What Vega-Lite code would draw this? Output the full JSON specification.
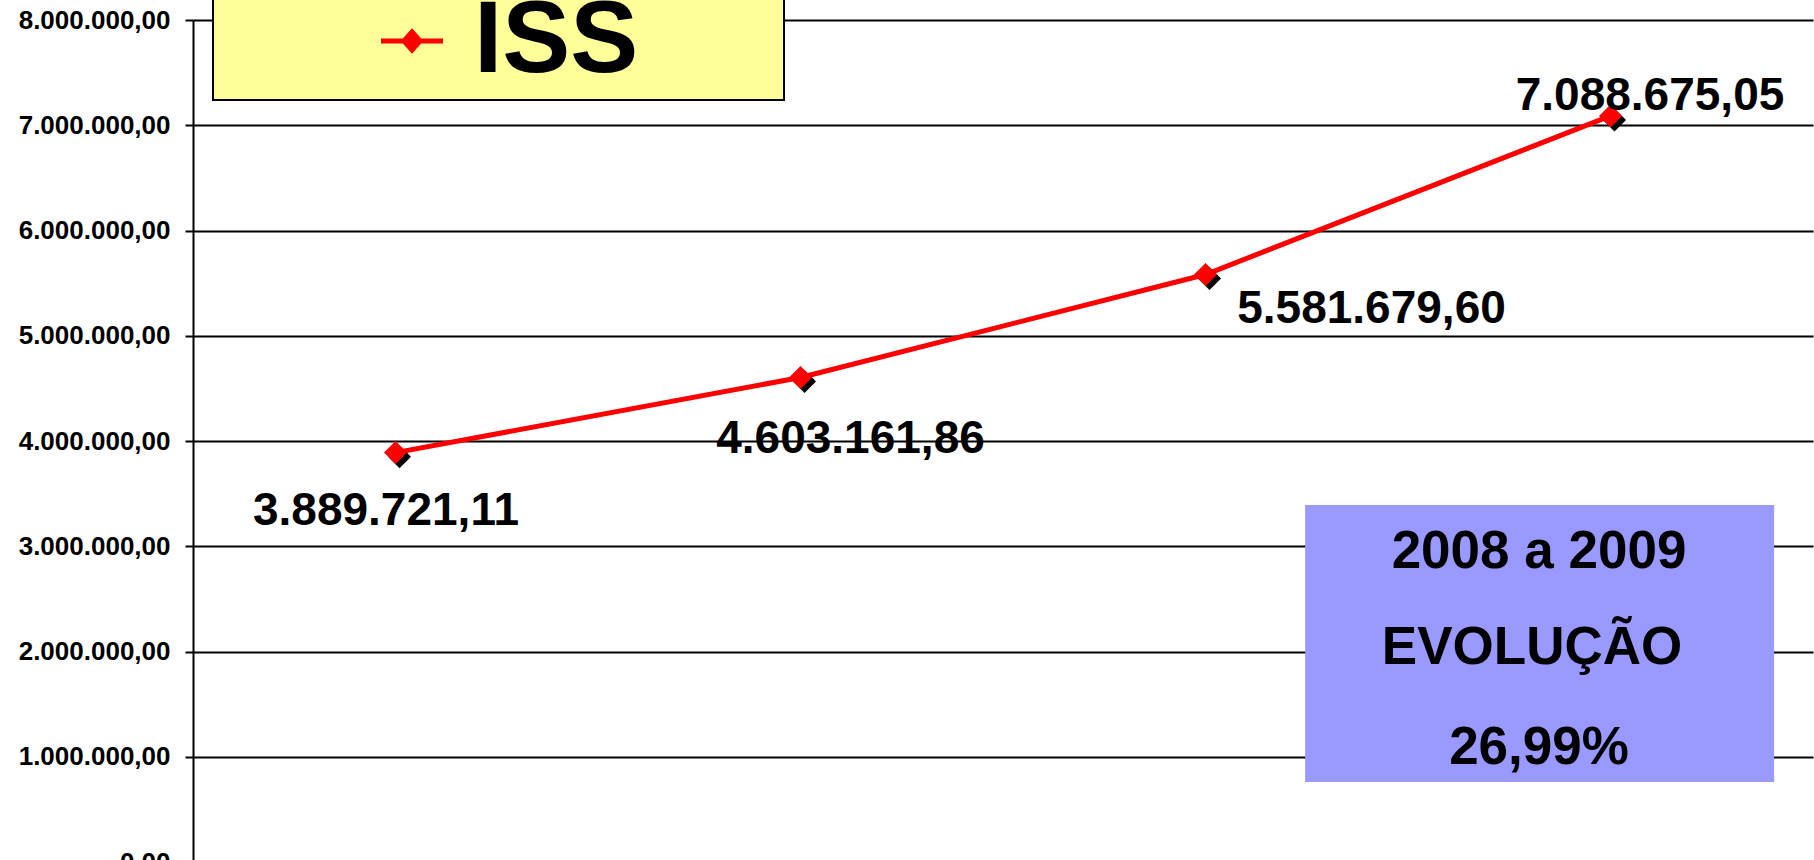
{
  "$schema": "https://vega.github.io/schema/vega-lite/v6.json",
  "width": 1620,
  "height": 842,
  "autosize": {"type": "none"},
  "padding": {"left": 193, "top": 20, "right": 1, "bottom": 0},
  "background": "white",
  "config": {
    "locale": {"number": {"decimal": ",", "thousands": ".", "grouping": [3], "currency": ["R$ ", ""]}},
    "view": {"stroke": null},
    "font": "Liberation Sans"
  },
  "datasets": {
    "iss": [
      {"ano": 2006, "valor": 3889721.11, "serie": "ISS"},
      {"ano": 2007, "valor": 4603161.86, "serie": "ISS"},
      {"ano": 2008, "valor": 5581679.60, "serie": "ISS"},
      {"ano": 2009, "valor": 7088675.05, "serie": "ISS"}
    ],
    "nota": [
      {"texto": "2008 a 2009 EVOLUÇÃO 26,99%"}
    ]
  },
  "data": {"name": "iss"},
  "layer": [
    {
      "data": {"name": "nota"},
      "mark": {"type": "rect", "color": "#9999FF", "opacity": 1},
      "encoding": {
        "x": {"datum": 2008.246, "type": "quantitative", "scale": {"domain": [2005.5, 2009.5], "nice": false, "zero": false}, "axis": null},
        "x2": {"datum": 2009.404},
        "y": {
          "datum": 3392000, "type": "quantitative",
          "scale": {"domain": [0, 8000000], "nice": false},
          "axis": {
            "title": null,
            "values": [0, 1000000, 2000000, 3000000, 4000000, 5000000, 6000000, 7000000, 8000000],
            "format": ",.2f",
            "labelFont": "Liberation Sans", "labelFontSize": 26, "labelFontWeight": "bold", "labelColor": "#000000",
            "labelPadding": 15,
            "tickSize": 8, "tickColor": "#000000", "tickWidth": 2,
            "domainColor": "#000000", "domainWidth": 2,
            "grid": true, "gridColor": "#000000", "gridWidth": 2, "gridOpacity": 1
          }
        },
        "y2": {"datum": 760000}
      }
    },
    {
      "data": {"name": "nota"},
      "mark": {"type": "text", "text": "2008 a 2009", "fontSize": 53, "fontWeight": "bold", "font": "Liberation Sans", "align": "center", "baseline": "alphabetic", "color": "#000000"},
      "encoding": {"x": {"datum": 2008.8235, "type": "quantitative"}, "y": {"datum": 2793300, "type": "quantitative"}}
    },
    {
      "data": {"name": "nota"},
      "mark": {"type": "text", "text": "EVOLUÇÃO", "fontSize": 53, "fontWeight": "bold", "font": "Liberation Sans", "align": "center", "baseline": "alphabetic", "color": "#000000", "dx": -7},
      "encoding": {"x": {"datum": 2008.8235, "type": "quantitative"}, "y": {"datum": 1880000, "type": "quantitative"}}
    },
    {
      "data": {"name": "nota"},
      "mark": {"type": "text", "text": "26,99%", "fontSize": 53, "fontWeight": "bold", "font": "Liberation Sans", "align": "center", "baseline": "alphabetic", "color": "#000000"},
      "encoding": {"x": {"datum": 2008.8235, "type": "quantitative"}, "y": {"datum": 935000, "type": "quantitative"}}
    },
    {
      "mark": {"type": "line", "strokeWidth": 5},
      "encoding": {
        "x": {"field": "ano", "type": "quantitative"},
        "y": {"field": "valor", "type": "quantitative"},
        "color": {
          "field": "serie", "type": "nominal",
          "scale": {"range": ["#FF0000"]},
          "legend": {
            "title": null,
            "orient": "none",
            "legendX": 20,
            "legendY": -38,
            "fillColor": "#FFFF99",
            "strokeColor": "#000000",
            "padding": 8,
            "symbolOffset": 140,
            "symbolType": "M-1,0L1,0M0,-0.29L0.26,0L0,0.29L-0.26,0ZM11.4,0L11.4,0",
            "symbolSize": 3844,
            "symbolStrokeWidth": 5,
            "symbolStrokeColor": "#FF0000",
            "symbolFillColor": "#FF0000",
            "labelOffset": 11,
            "labelFont": "Liberation Sans",
            "labelFontSize": 102,
            "labelFontWeight": "bold",
            "labelColor": "#000000",
            "labelLimit": 0,
            "encode": {
              "legend": {"update": {"strokeWidth": {"value": 2}}},
              "symbols": {"update": {"fill": {"value": "#FF0000"}, "stroke": {"value": "#FF0000"}, "strokeWidth": {"value": 5}, "opacity": {"value": 1}}}
            }
          }
        }
      }
    },
    {
      "mark": {"type": "point", "shape": "M-0.65,0.35L0.35,-0.65L1.35,0.35L0.35,1.35Z", "filled": true, "color": "#000000", "size": 529, "opacity": 1},
      "encoding": {
        "x": {"field": "ano", "type": "quantitative"},
        "y": {"field": "valor", "type": "quantitative"}
      }
    },
    {
      "mark": {"type": "point", "shape": "diamond", "filled": true, "color": "#FF0000", "size": 529, "opacity": 1},
      "encoding": {
        "x": {"field": "ano", "type": "quantitative"},
        "y": {"field": "valor", "type": "quantitative"}
      }
    },
    {
      "transform": [{"filter": "datum.ano == 2006"}],
      "mark": {"type": "text", "fontSize": 46, "fontWeight": "bold", "font": "Liberation Sans", "align": "center", "baseline": "alphabetic", "color": "#000000", "dx": -9.5, "dy": 72.4},
      "encoding": {
        "x": {"field": "ano", "type": "quantitative"},
        "y": {"field": "valor", "type": "quantitative"},
        "text": {"field": "valor", "type": "quantitative", "format": ",.2f"}
      }
    },
    {
      "transform": [{"filter": "datum.ano == 2007"}],
      "mark": {"type": "text", "fontSize": 46, "fontWeight": "bold", "font": "Liberation Sans", "align": "center", "baseline": "alphabetic", "color": "#000000", "dx": 50, "dy": 75.5},
      "encoding": {
        "x": {"field": "ano", "type": "quantitative"},
        "y": {"field": "valor", "type": "quantitative"},
        "text": {"field": "valor", "type": "quantitative", "format": ",.2f"}
      }
    },
    {
      "transform": [{"filter": "datum.ano == 2008"}],
      "mark": {"type": "text", "fontSize": 46, "fontWeight": "bold", "font": "Liberation Sans", "align": "center", "baseline": "alphabetic", "color": "#000000", "dx": 166, "dy": 48.2},
      "encoding": {
        "x": {"field": "ano", "type": "quantitative"},
        "y": {"field": "valor", "type": "quantitative"},
        "text": {"field": "valor", "type": "quantitative", "format": ",.2f"}
      }
    },
    {
      "transform": [{"filter": "datum.ano == 2009"}],
      "mark": {"type": "text", "fontSize": 46, "fontWeight": "bold", "font": "Liberation Sans", "align": "center", "baseline": "alphabetic", "color": "#000000", "dx": 39.5, "dy": -5.9},
      "encoding": {
        "x": {"field": "ano", "type": "quantitative"},
        "y": {"field": "valor", "type": "quantitative"},
        "text": {"field": "valor", "type": "quantitative", "format": ",.2f"}
      }
    }
  ]
}
